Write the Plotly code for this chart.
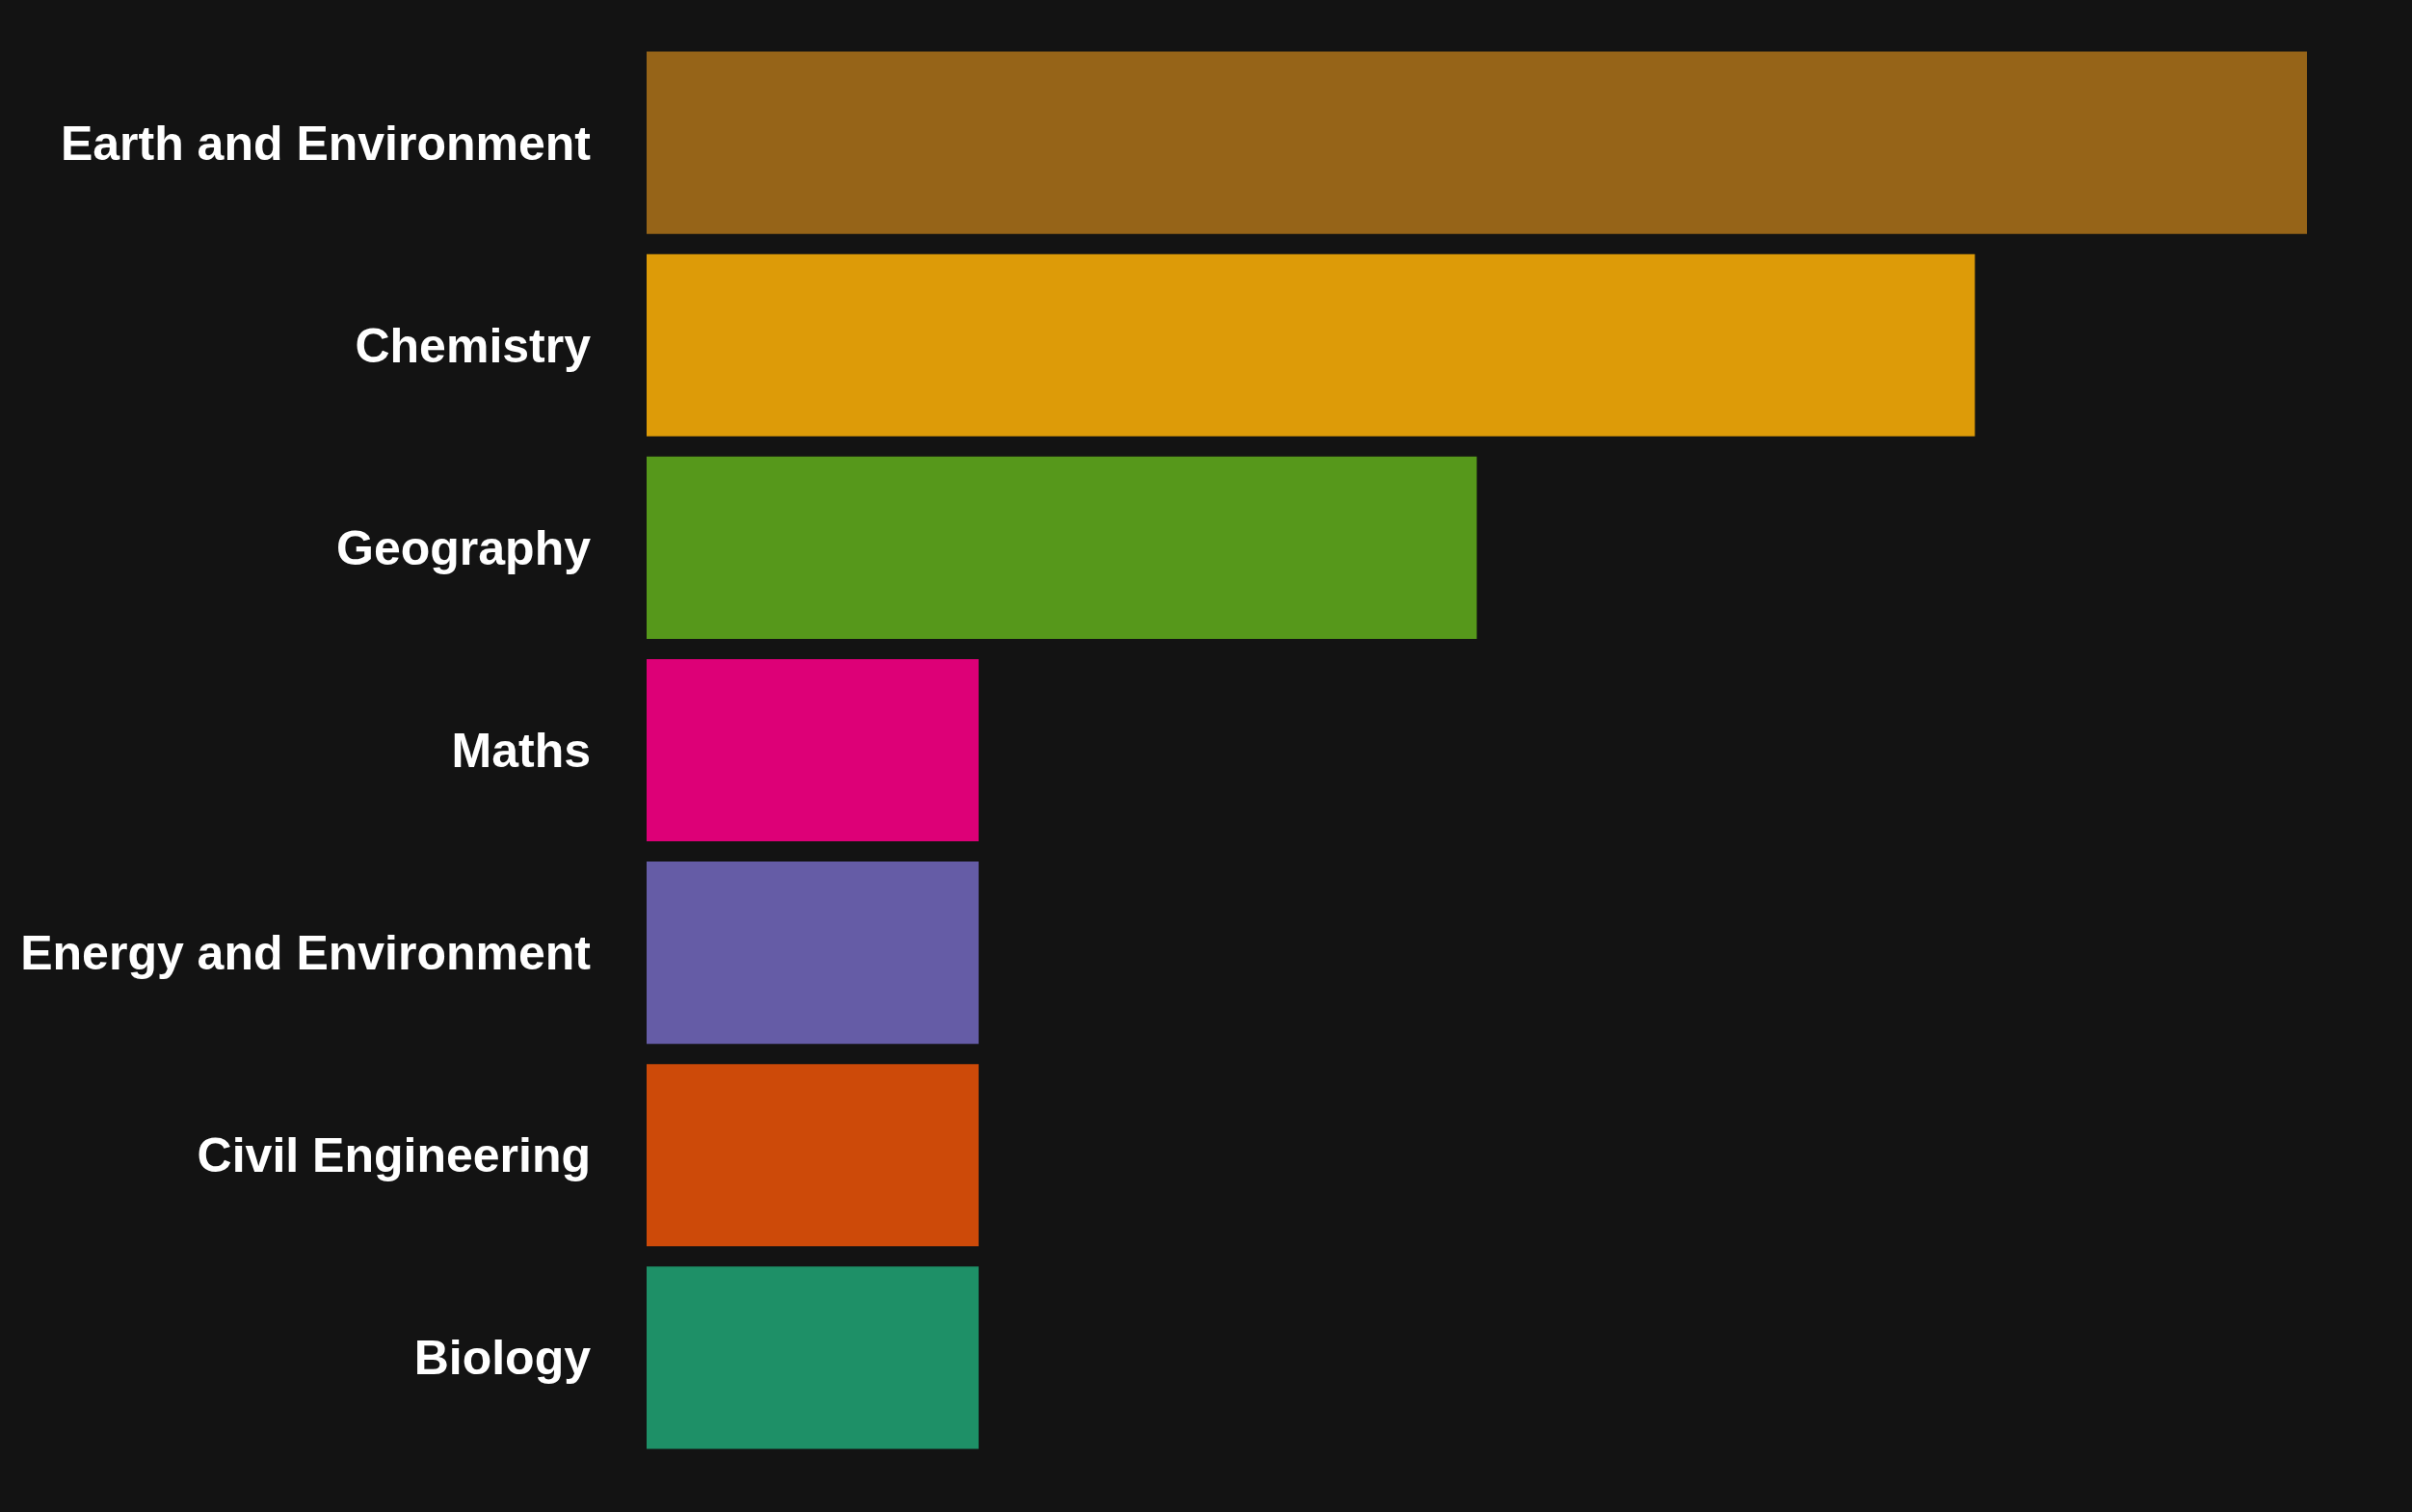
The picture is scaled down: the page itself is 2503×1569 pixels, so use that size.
import plotly.graph_objects as go

categories = ["Biology", "Civil Engineering", "Energy and Environment", "Maths",
              "Geography", "Chemistry", "Earth and Environment"]
values = [2, 2, 2, 2, 5, 8, 10]
colors = ["#1E9067", "#CD4A09", "#655CA6", "#DD0077", "#56981B", "#DD9B08", "#966418"]

fig = go.Figure(go.Bar(
    x=values, y=categories, orientation="h",
    marker=dict(color=colors, line=dict(width=0)),
    hoverinfo="x+y",
))

fig.update_layout(
    width=2503, height=1569,
    paper_bgcolor="#131313", plot_bgcolor="#131313",
    margin=dict(l=671, r=109, t=43, b=55, autoexpand=False),
    bargap=0.1,
    showlegend=False,
    font=dict(family="Liberation Sans, Arial, sans-serif", color="#ffffff"),
    xaxis=dict(range=[0, 10], visible=False, showgrid=False, zeroline=False, fixedrange=True),
    yaxis=dict(showgrid=False, zeroline=False, showline=False, ticks="",
               tickfont=dict(size=50, color="#ffffff", family="Liberation Sans, Arial, sans-serif", weight="bold"),
               ticklabelstandoff=57, automargin=False, fixedrange=True),
)

fig.write_html("out.html")
